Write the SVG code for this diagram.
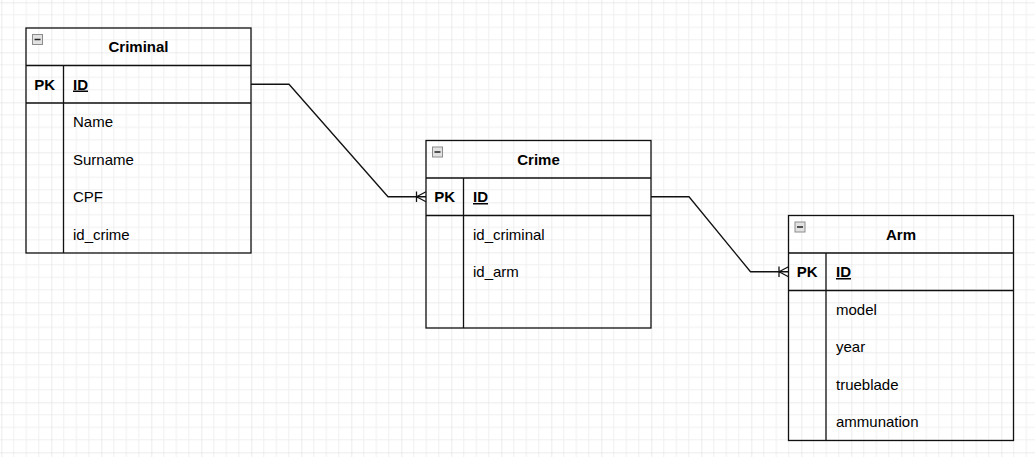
<svg xmlns="http://www.w3.org/2000/svg" width="1035" height="457" viewBox="0 0 1035 457">
<defs>
<pattern id="grid" x="1.3" y="2.3" width="50" height="50" patternUnits="userSpaceOnUse">
<path d="M12.5 0V50M25 0V50M37.5 0V50M0 12.5H50M0 25H50M0 37.5H50" stroke="#f0f0f0" stroke-width="1" fill="none"/>
<path d="M0 0V50M0 0H50" stroke="#dadada" stroke-width="1" fill="none"/>
</pattern>
<g id="icon">
<rect x="0.5" y="0.5" width="10" height="10" fill="#e2e2e2" stroke="#8c8c8c" stroke-width="1"/>
<line x1="2.5" y1="5.5" x2="8.5" y2="5.5" stroke="#222" stroke-width="1.5"/>
</g>
</defs>
<style>
.b{fill:none;stroke:#111;stroke-width:1.3}
.t{font-family:"Liberation Sans",Arial,sans-serif;font-size:15px;fill:#000}
.h{font-weight:bold;text-anchor:middle}
.k{font-weight:bold}
.u{font-weight:bold;text-decoration:underline}
.c{fill:none;stroke:#111;stroke-width:1.3}
</style>
<rect width="1035" height="457" fill="#fff"/>
<rect width="1035" height="457" fill="url(#grid)"/>

<g id="connectors">
<polyline class="c" points="251,84.25 289,84.25 388,196.75 426,196.75"/>
<path class="c" d="M416.5 191.5V202M416.5 196.75L426 191.75M416.5 196.75L426 201.75"/>
<polyline class="c" points="651,196.75 689,196.75 750.5,271.75 788.5,271.75"/>
<path class="c" d="M779 266.5V277M779 271.75L788.5 266.75M779 271.75L788.5 276.75"/>
</g>

<g id="criminal">
<rect class="b" x="26" y="28" width="225" height="225"/>
<path class="b" d="M26 65.5H251M26 103H251M63.5 65.5V253"/>
<use href="#icon" x="32" y="34"/>
<text class="t h" x="138.5" y="52.2">Criminal</text>
<text class="t k h" x="44.75" y="89.5">PK</text>
<text class="t u" x="73" y="89.5">ID</text>
<text class="t" x="73" y="127">Name</text>
<text class="t" x="73" y="164.5">Surname</text>
<text class="t" x="73" y="202">CPF</text>
<text class="t" x="73" y="239.5">id_crime</text>
</g>

<g id="crime">
<rect class="b" x="426" y="140.5" width="225" height="187.5"/>
<path class="b" d="M426 178H651M426 215.5H651M463.5 178V328"/>
<use href="#icon" x="432" y="146.5"/>
<text class="t h" x="538.5" y="164.7">Crime</text>
<text class="t k h" x="444.75" y="202">PK</text>
<text class="t u" x="473" y="202">ID</text>
<text class="t" x="473" y="239.5">id_criminal</text>
<text class="t" x="473" y="277">id_arm</text>
</g>

<g id="arm">
<rect class="b" x="788.5" y="215.5" width="225" height="225"/>
<path class="b" d="M788.5 253H1013.5M788.5 290.5H1013.5M826 253V440.5"/>
<use href="#icon" x="794.5" y="221.5"/>
<text class="t h" x="901" y="239.7">Arm</text>
<text class="t k h" x="807.25" y="277">PK</text>
<text class="t u" x="836" y="277">ID</text>
<text class="t" x="836" y="314.5">model</text>
<text class="t" x="836" y="352">year</text>
<text class="t" x="836" y="389.5">trueblade</text>
<text class="t" x="836" y="427">ammunation</text>
</g>
</svg>
